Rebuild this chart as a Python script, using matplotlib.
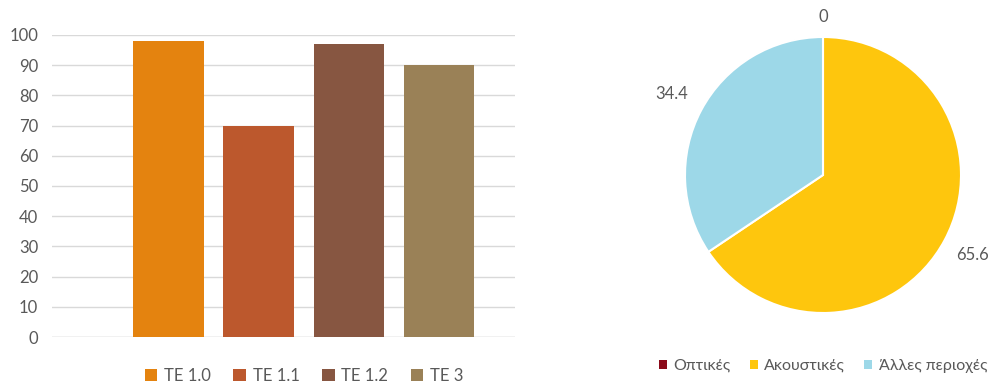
import matplotlib
matplotlib.use("Agg")
import matplotlib.pyplot as plt
from matplotlib.patches import Patch

plt.rcParams['font.family'] = ['Lato', 'Open Sans', 'DejaVu Sans']

# Bar chart data
bar_series = ["TE 1.0", "TE 1.1", "TE 1.2", "TE 3"]
bar_values = [98, 70, 97, 90]
bar_colors = ["#E4830F", "#BC582D", "#875641", "#9A8157"]
y_ticks = [0, 10, 20, 30, 40, 50, 60, 70, 80, 90, 100]

# Pie chart data
pie_labels = ["Οπτικές", "Ακουστικές", "Άλλες περιοχές"]
pie_values = [0, 65.6, 34.4]
pie_colors = ["#8B0A1A", "#FEC60D", "#9DD8E8"]

text_color = "#595959"
grid_color = "#D9D9D9"

W, H = 992, 385
fig = plt.figure(figsize=(W / 100, H / 100), dpi=100)

# ---- Bar chart ----
axb = fig.add_axes([52 / W, 1 - 337 / H, (515 - 52) / W, (337 - 35) / H])
xs = list(range(len(bar_values)))
axb.bar(xs, bar_values, width=0.78, color=bar_colors, zorder=3)
axb.set_xlim(-1.29, 3.84)
axb.set_ylim(0, 100)
axb.set_yticks(y_ticks)
axb.set_xticks([])
axb.yaxis.grid(True, color=grid_color, linewidth=1, zorder=0)
for s in axb.spines.values():
    s.set_visible(False)
axb.axhline(0, color=grid_color, linewidth=1, zorder=2)
axb.tick_params(axis='y', length=0, pad=10, labelsize=12, labelcolor=text_color)
for lbl in axb.get_yticklabels():
    lbl.set_horizontalalignment('right')

handles = [Patch(facecolor=c, label=l) for c, l in zip(bar_colors, bar_series)]
fig.legend(handles=handles, loc='center', bbox_to_anchor=(304 / W, 1 - 376 / H),
           ncol=4, frameon=False, fontsize=12, labelcolor=text_color,
           handlelength=0.75, handleheight=0.75, handletextpad=0.4, columnspacing=1.35)

# ---- Pie chart ----
R = 138
cx, cy = 823, 175
axp = fig.add_axes([(cx - R) / W, 1 - (cy + R) / H, 2 * R / W, 2 * R / H])
wedges, texts = axp.pie(
    pie_values, colors=pie_colors, startangle=90, counterclock=False,
    labels=[f"{v:g}" for v in pie_values], labeldistance=1.2,
    wedgeprops=dict(edgecolor="white", linewidth=1.5),
    textprops=dict(color=text_color, fontsize=12))
for t, d in zip(texts, [1.145, 1.23, 1.24]):
    x, y = t.get_position()
    r = (x * x + y * y) ** 0.5
    t.set_position((x / r * d, y / r * d))
    t.set_horizontalalignment('center')
    t.set_verticalalignment('center')
axp.set_xlim(-1, 1)
axp.set_ylim(-1, 1)
axp.set_aspect('equal')
axp.axis('off')

phandles = [Patch(facecolor=c, label=l) for c, l in zip(pie_colors, pie_labels)]
fig.legend(handles=phandles, loc='center', bbox_to_anchor=(823 / W, 1 - 366 / H),
           ncol=3, frameon=False, fontsize=11.5, labelcolor=text_color,
           handlelength=0.5, handleheight=0.5, handletextpad=0.4, columnspacing=1.2)

fig.savefig("out.png", dpi=100)
